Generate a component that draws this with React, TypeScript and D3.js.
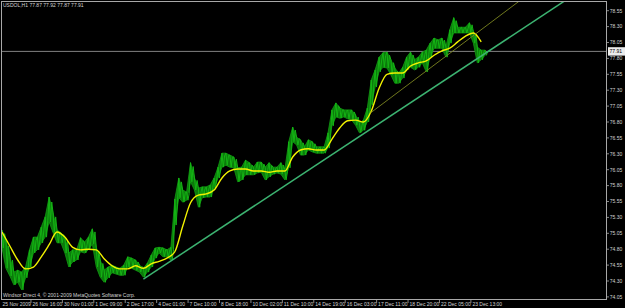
import React from "react";
import * as d3 from "d3";

const W = 625;
const H = 308;

const symbolTitle = "USDOL,H1";
const lastOHLC = ["77.87", "77.92", "77.87", "77.91"];
const lastPrice = 77.91;
const copyright = "Windsor Direct 4, \u00A9 2001-2009 MetaQuotes Software Corp.";

// price envelope, one sample every 4 hourly bars
const barStep = 4;
const highs = [
  75.10, 74.94, 74.69, 74.44, 74.47, 74.44, 74.52, 74.79, 74.99, 74.99,
  75.15, 75.31, 75.62, 75.37, 75.10, 75.06, 74.99, 74.74, 74.79, 74.79,
  74.98, 74.91, 74.99, 75.12, 74.83, 74.63, 74.47, 74.52, 74.55, 74.52,
  74.50, 74.55, 74.68, 74.66, 74.63, 74.55, 74.50, 74.58, 74.71, 74.82,
  74.83, 74.82, 74.79, 74.83, 75.59, 75.92, 75.73, 75.70, 76.16, 75.92,
  75.76, 75.78, 75.78, 75.81, 75.92, 76.09, 76.31, 76.31, 76.28, 76.25,
  76.08, 76.09, 76.20, 76.16, 76.09, 76.17, 76.17, 76.09, 76.16, 76.09,
  76.09, 76.16, 76.05, 76.49, 76.72, 76.56, 76.52, 76.41, 76.52, 76.49,
  76.41, 76.41, 76.41, 76.63, 76.99, 77.10, 77.02, 76.99, 76.99, 76.99,
  76.91, 76.78, 76.83, 77.02, 77.46, 77.62, 77.82, 77.89, 77.90, 77.78,
  77.65, 77.57, 77.66, 77.82, 77.90, 77.78, 77.82, 77.90, 77.93, 78.04,
  78.12, 78.09, 78.12, 77.98, 78.25, 78.44, 78.29, 78.29, 78.29, 78.36,
  78.22, 77.98, 77.93, 77.93,
];
const lows = [
  74.82, 74.50, 74.38, 74.24, 74.28, 74.16, 74.35, 74.52, 74.74, 74.79,
  74.90, 74.99, 75.23, 75.06, 74.90, 74.90, 74.74, 74.52, 74.60, 74.63,
  74.76, 74.74, 74.79, 74.88, 74.52, 74.36, 74.28, 74.35, 74.43, 74.41,
  74.39, 74.39, 74.52, 74.50, 74.47, 74.44, 74.36, 74.44, 74.52, 74.66,
  74.74, 74.68, 74.68, 74.63, 75.18, 75.61, 75.54, 75.57, 75.86, 75.73,
  75.46, 75.61, 75.62, 75.62, 75.76, 75.92, 76.09, 76.12, 76.09, 76.08,
  75.86, 75.89, 75.97, 75.97, 75.97, 76.00, 76.01, 75.89, 75.94, 75.98,
  76.00, 75.98, 75.89, 76.08, 76.49, 76.44, 76.28, 76.28, 76.36, 76.33,
  76.31, 76.31, 76.31, 76.39, 76.74, 76.88, 76.86, 76.88, 76.85, 76.83,
  76.75, 76.63, 76.67, 76.80, 77.07, 77.35, 77.59, 77.66, 77.65, 77.54,
  77.41, 77.41, 77.49, 77.62, 77.66, 77.62, 77.66, 77.73, 77.59, 77.82,
  77.96, 77.96, 77.96, 77.82, 78.04, 78.20, 78.20, 78.20, 78.20, 78.20,
  78.04, 77.73, 77.78, 77.85,
];

// moving average, one sample every 8 bars
const maStep = 8;
const maValues = [
  75.07, 74.85, 74.63, 74.49, 74.52, 74.68, 74.87, 75.07, 74.99, 74.83,
  74.79, 74.80, 74.79, 74.65, 74.54, 74.49, 74.49, 74.54, 74.50, 74.57,
  74.61, 74.66, 74.76, 75.16, 75.53, 75.65, 75.67, 75.73, 75.92, 76.03,
  76.06, 76.06, 76.03, 76.03, 76.01, 76.03, 76.03, 76.25, 76.36, 76.38,
  76.36, 76.36, 76.53, 76.71, 76.82, 76.83, 76.80, 76.97, 77.33, 77.55,
  77.57, 77.57, 77.68, 77.73, 77.76, 77.85, 77.92, 77.96, 78.06, 78.15,
  78.20, 78.06,
];

const priceTicks = [
  74.05, 74.3, 74.55, 74.8, 75.05, 75.3, 75.55, 75.8, 76.05, 76.3,
  76.55, 76.8, 77.05, 77.3, 77.55, 77.8, 78.05, 78.3, 78.55,
];
const firstTimeLabel = "25 Nov 2009";
const timeTickBars = [30, 62, 94, 126, 158, 190, 222, 254, 286, 318, 350, 382, 414, 446, 478];
const timeTickLabels = [
  "26 Nov 16:00", "30 Nov 01:00", "1 Dec 09:00", "2 Dec 17:00", "4 Dec 01:00",
  "7 Dec 10:00", "8 Dec 18:00", "10 Dec 02:00", "11 Dec 10:00", "14 Dec 19:00",
  "16 Dec 03:00", "17 Dec 11:00", "18 Dec 20:00", "22 Dec 05:00", "23 Dec 13:00",
];

const trendMainBars = [144, 500];
const trendMainPrices = [74.33, 77.96];
const trendChanBars = [375, 487];
const trendChanPrices = [76.94, 78.24];

const plotLeft = 2;
const plotTop = 2;
const plotRight = 606;
const plotBottom = 299;
const FONT = "'Liberation Sans', Arial, sans-serif";

export default function App() {
  const x = d3.scaleLinear().domain([0, 600]).range([2, 2 + 600 * 0.982]);
  const y = d3.scaleLinear().domain([74.05, 78.55]).range([296.9, 10.7]);

  const area = d3
    .area<number>()
    .x((_, i) => x(i * barStep))
    .y0((_, i) => y(lows[i]))
    .y1((d) => y(d))
    .curve(d3.curveLinear);

  // zig-zag through the envelope (high, low, high, ...) to give the line-chart texture
  const zigPts: [number, number][] = [];
  highs.forEach((h, i) => {
    const xa = x(i * barStep);
    zigPts.push([xa, y(h)]);
    zigPts.push([xa + 1.3, y(lows[i])]);
    zigPts.push([xa + 2.6, y((h + lows[i]) / 2 + (h - lows[i]) * 0.3)]);
  });
  const zig = d3.line().curve(d3.curveLinear)(zigPts) || "";

  const maLine = d3
    .line<number>()
    .x((_, i) => x(i * maStep))
    .y((d) => y(d))
    .curve(d3.curveMonotoneX);

  const ray = (bars: number[], prices: number[], endBar: number) => {
    const ext = d3.scaleLinear().domain(bars).range(prices);
    return {
      x1: x(bars[0]),
      y1: y(prices[0]),
      x2: x(endBar),
      y2: y(ext(endBar)),
    };
  };
  const mainRay = ray(trendMainBars, trendMainPrices, 700);
  const chanRay = ray(trendChanBars, trendChanPrices, 700);

  const lastY = y(lastPrice);
  const axisColor = "#a8a8a8";
  const textColor = "#d4d4d4";

  return (
    <div style={{ position: "fixed", left: 0, top: 0, width: W, height: H, background: "#000" }}>
      <svg width={W} height={H} style={{ display: "block" }}>
        <defs>
          <clipPath id="plot">
            <rect x={plotLeft} y={plotTop} width={plotRight - plotLeft} height={plotBottom - plotTop} />
          </clipPath>
        </defs>
        <rect x={0} y={0} width={W} height={H} fill="#000" />

        {/* frame */}
        <line x1={1} y1={1.5} x2={plotRight} y2={1.5} stroke={axisColor} strokeWidth={1} />
        <line x1={1.5} y1={1} x2={1.5} y2={plotBottom} stroke={axisColor} strokeWidth={1} />
        <line x1={plotRight + 0.5} y1={1} x2={plotRight + 0.5} y2={plotBottom + 0.5} stroke={axisColor} strokeWidth={1} />
        <line x1={1} y1={plotBottom + 0.5} x2={plotRight + 1} y2={plotBottom + 0.5} stroke={axisColor} strokeWidth={1} />

        <g clipPath="url(#plot)">
          {/* last price line */}
          <line x1={plotLeft} x2={plotRight} y1={lastY} y2={lastY} stroke="#808080" strokeWidth={1} />
          {/* price band */}
          <path d={area(highs) || ""} fill="#0b7a0b" stroke="#119a11" strokeWidth={0.8} />
          <path d={zig} fill="none" stroke="#14b414" strokeWidth={1} />
          {/* moving average */}
          <path d={maLine(maValues) || ""} fill="none" stroke="#f2f200" strokeWidth={1.4} />
          {/* trend lines */}
          <line {...chanRay} stroke="#7c8420" strokeWidth={0.9} />
          <line {...mainRay} stroke="#3cb371" strokeWidth={1.5} />
        </g>

        {/* header */}
        <text x={3} y={7} fill={textColor} fontSize={5} fontFamily={FONT}>
          {symbolTitle + "  " + lastOHLC.join(" ")}
        </text>
        <text x={3} y={297} fill={textColor} fontSize={5} fontFamily={FONT}>
          {copyright}
        </text>

        {/* price axis */}
        {priceTicks.map((p) => (
          <g key={p}>
            <line x1={plotRight + 1} x2={plotRight + 3} y1={y(p)} y2={y(p)} stroke={axisColor} strokeWidth={0.8} />
            <text x={plotRight + 3.8} y={y(p) + 1.8} fill={textColor} fontSize={5} fontFamily={FONT}>
              {p.toFixed(2)}
            </text>
          </g>
        ))}
        <rect x={plotRight + 2} y={lastY - 4.2} width={17} height={8.4} fill="#ececec" />
        <text x={plotRight + 3.6} y={lastY + 1.8} fill="#000" fontSize={5} fontFamily={FONT}>
          {lastPrice.toFixed(2)}
        </text>

        {/* time axis */}
        <text x={2.5} y={306} fill={textColor} fontSize={5} fontFamily={FONT}>
          {firstTimeLabel}
        </text>
        {timeTickBars.map((b, i) => (
          <g key={b}>
            <line x1={x(b) - 0.5} x2={x(b) - 0.5} y1={plotBottom + 1} y2={plotBottom + 4} stroke={axisColor} strokeWidth={0.8} />
            <text x={x(b) + 1} y={306} fill={textColor} fontSize={5} fontFamily={FONT}>
              {timeTickLabels[i]}
            </text>
          </g>
        ))}
      </svg>
    </div>
  );
}
